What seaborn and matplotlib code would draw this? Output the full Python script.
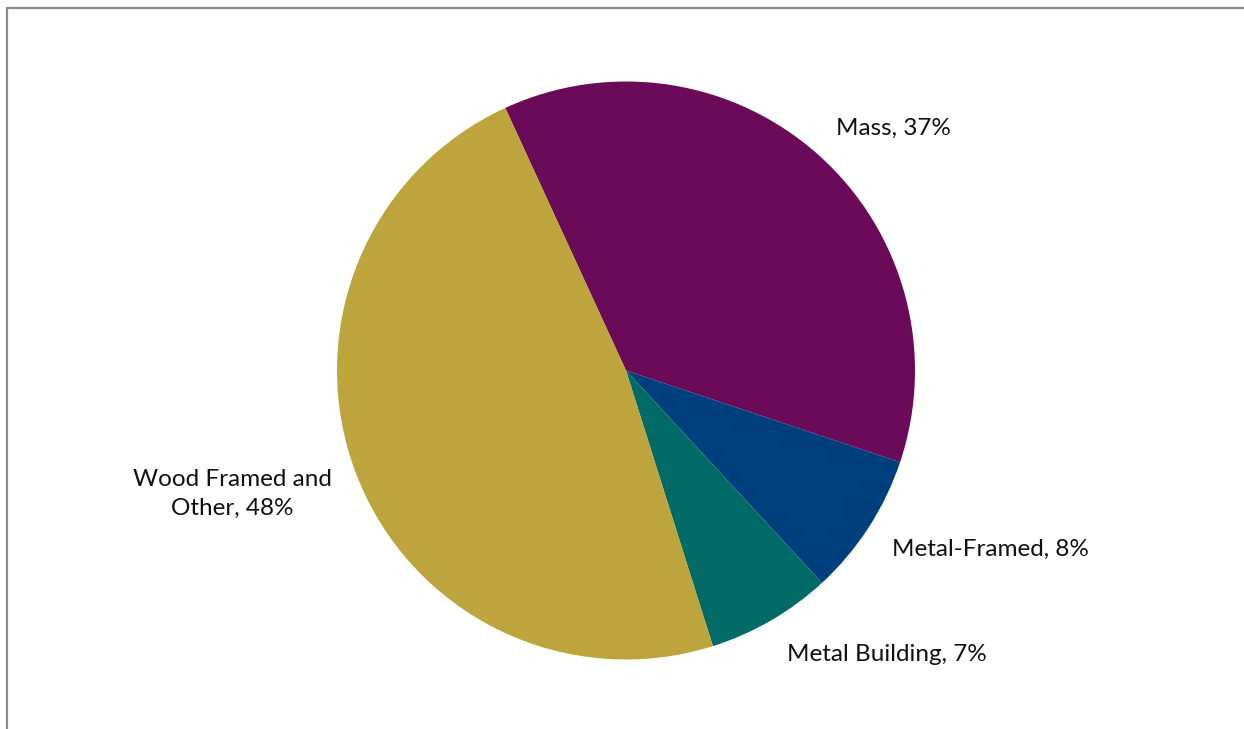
import matplotlib
matplotlib.use("Agg")
import matplotlib.pyplot as plt
import seaborn as sns

# Share of building area by construction type
categories = ["Mass", "Metal-Framed", "Metal Building", "Wood Framed and\nOther"]
shares = [37, 8, 7, 48]
colors = ["#6B0A58", "#003F7E", "#006A66", "#BEA43C"]

sns.set_theme(style="white")
plt.rcParams["font.family"] = ["Lato", "DejaVu Sans"]

W, H = 1244, 729
fig = plt.figure(figsize=(W / 100, H / 100), dpi=100)
fig.patch.set_facecolor("white")

# Outer frame: only the top and left edges fall inside the canvas
frame = fig.add_axes([0, 0, 1, 1], zorder=-1)
frame.set_xlim(0, W)
frame.set_ylim(H, 0)
frame.axis("off")
frame.plot([7, 7, W], [H, 7.5, 7.5], color="#8C8C8C", lw=1.6, solid_capstyle="butt")

cx, cy, r = 626, 370.5, 289
ax = fig.add_axes([(cx - r) / W, (H - cy - r) / H, 2 * r / W, 2 * r / H])
wedges, _ = ax.pie(
    shares,
    colors=sns.color_palette(colors),
    startangle=114.7,
    counterclock=False,
    radius=1,
    wedgeprops=dict(linewidth=0),
)
ax.set_xlim(-1, 1)
ax.set_ylim(-1, 1)
ax.set_aspect("equal")
ax.axis("off")

label_pos = [(0.924, 0.839), (1.260, -0.618), (0.903, -0.984), (-1.363, -0.427)]
for name, val, (x, y) in zip(categories, shares, label_pos):
    ax.text(x, y, f"{name}, {val}%", ha="center", va="center",
            fontsize=17.5, color="#111111", clip_on=False, linespacing=1.5)

fig.savefig("out.png", dpi=100, facecolor="white")
